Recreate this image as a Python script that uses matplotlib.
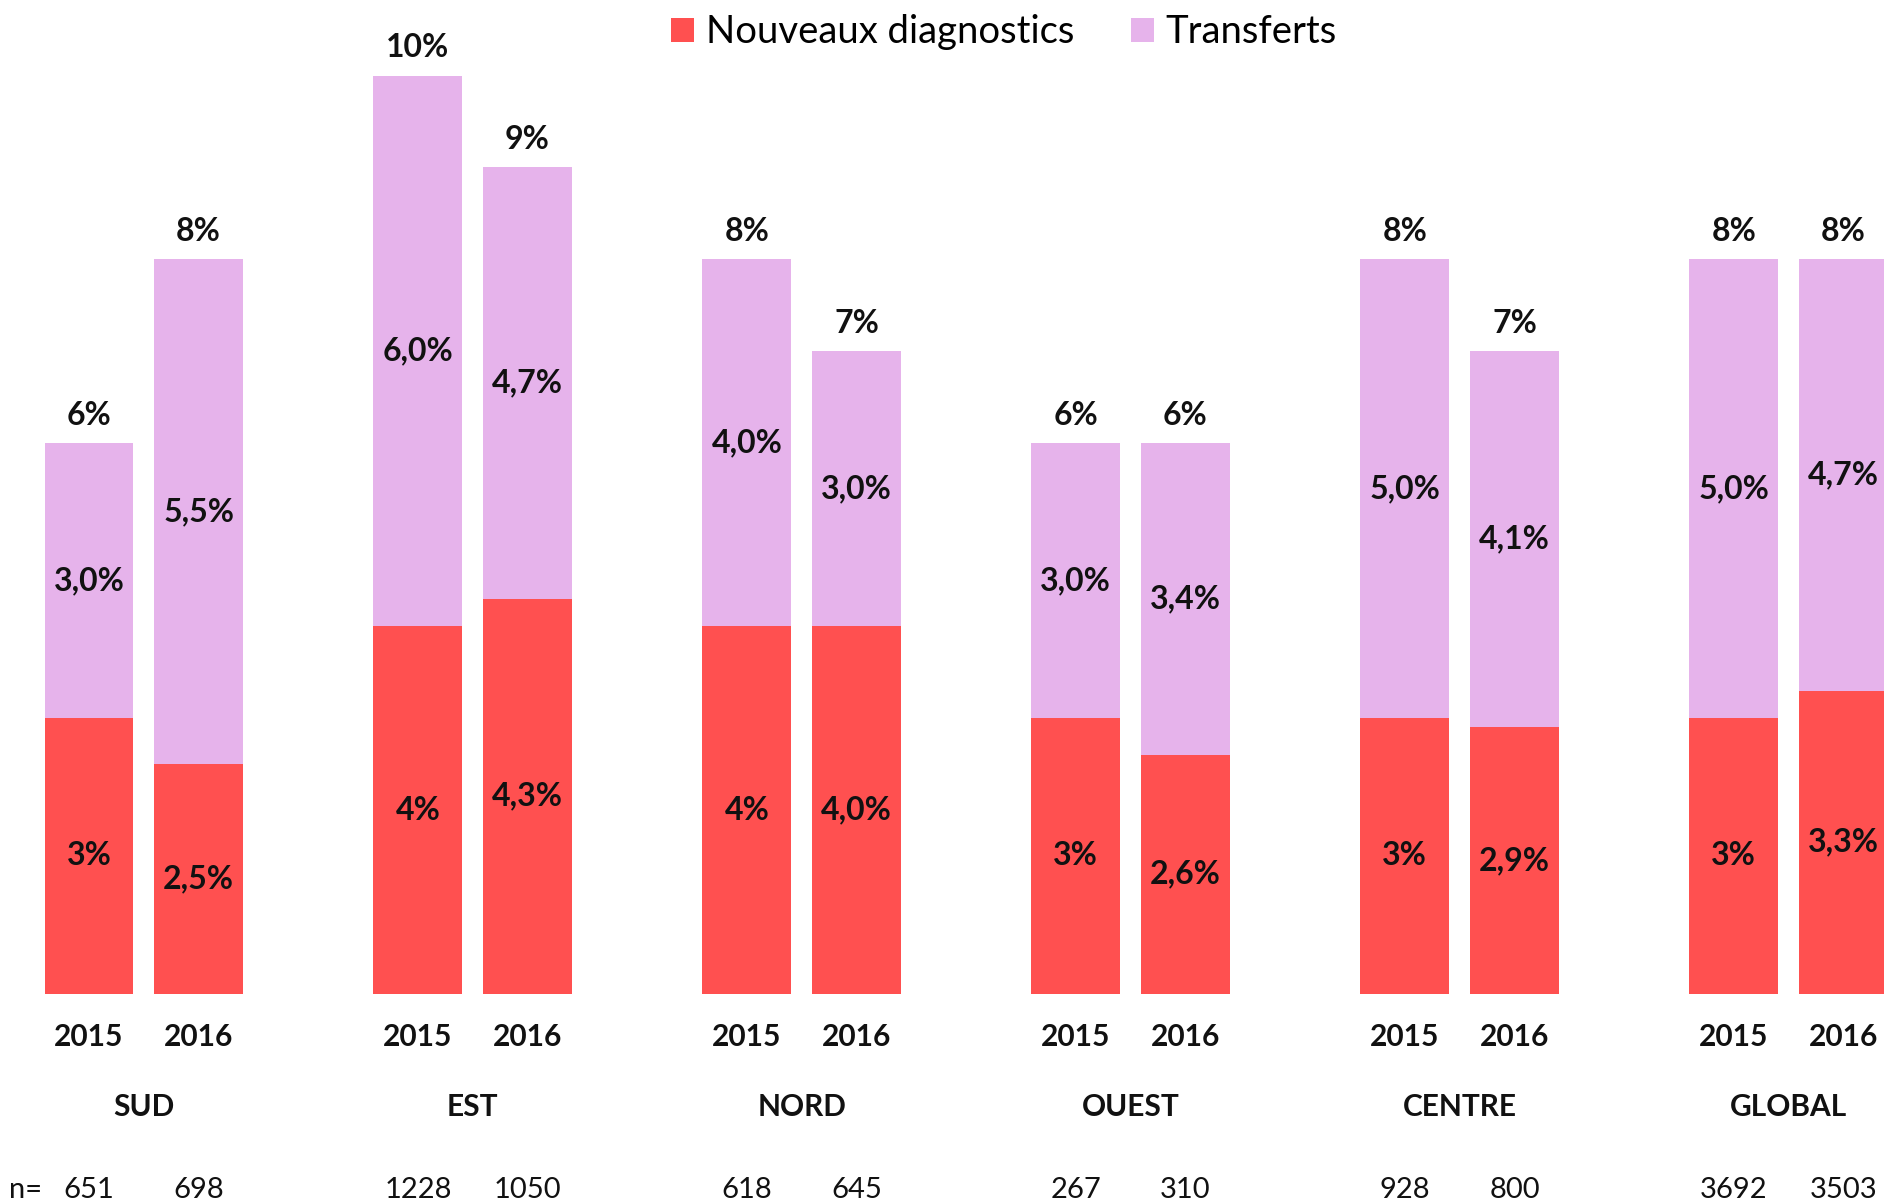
import matplotlib
matplotlib.use("Agg")
import matplotlib.pyplot as plt
from matplotlib.patches import Patch

# Regions and years
regions = ["SUD", "EST", "NORD", "OUEST", "CENTRE", "GLOBAL"]
years = ["2015", "2016"]

# Percent of new diagnoses and transfers, per region and year (2015, 2016)
nouveaux = [3.0, 2.5, 4.0, 4.3, 4.0, 4.0, 3.0, 2.6, 3.0, 2.9, 3.0, 3.3]
transferts = [3.0, 5.5, 6.0, 4.7, 4.0, 3.0, 3.0, 3.4, 5.0, 4.1, 5.0, 4.7]

# Printed labels
nouveaux_labels = ["3%", "2,5%", "4%", "4,3%", "4%", "4,0%",
                   "3%", "2,6%", "3%", "2,9%", "3%", "3,3%"]
transferts_labels = ["3,0%", "5,5%", "6,0%", "4,7%", "4,0%", "3,0%",
                     "3,0%", "3,4%", "5,0%", "4,1%", "5,0%", "4,7%"]
total_labels = ["6%", "8%", "10%", "9%", "8%", "7%",
                "6%", "6%", "8%", "7%", "8%", "8%"]
effectifs = ["651", "698", "1228", "1050", "618", "645",
             "267", "310", "928", "800", "3692", "3503"]

RED = "#FF5050"
PINK = "#E6B3EB"
FONT = "Lato"
INK = "#111111"

fig = plt.figure(figsize=(18.84, 12.0), dpi=100)
ax = fig.add_axes([0, 0, 1, 1])

xs = []
for g in range(len(regions)):
    for j in range(len(years)):
        xs.append(3 * g + j)

ax.bar(xs, nouveaux, width=0.81, color=RED, edgecolor="none")
ax.bar(xs, transferts, width=0.81, bottom=nouveaux, color=PINK, edgecolor="none")

pct = dict(fontfamily=FONT, fontweight="bold", fontsize=23, color=INK,
           ha="center", va="center")
axis_lab = dict(fontfamily=FONT, fontweight="bold", fontsize=21.5, color=INK,
                ha="center", va="center")

for x, n, t, nl, tl, tot in zip(xs, nouveaux, transferts, nouveaux_labels,
                                transferts_labels, total_labels):
    ax.text(x, n / 2, nl, **pct)
    ax.text(x, n + t / 2, tl, **pct)
    ax.annotate(tot, (x, n + t), xytext=(0, 20), textcoords="offset points", **pct)
    ax.text(x, -0.47, years[x % 3], **axis_lab)

for g, name in enumerate(regions):
    ax.text(3 * g + 0.5, -1.23, name, **axis_lab)

for x, e in zip(xs, effectifs):
    ax.text(x, -2.14, e, fontfamily=FONT, fontsize=21, color=INK,
            ha="center", va="center")
ax.text(-0.58, -2.14, "n=", fontfamily=FONT, fontsize=21, color=INK,
        ha="center", va="center")

ax.set_xlim(-0.811, 16.37)
ax.set_ylim(-2.248, 10.824)
ax.axis("off")

handles = [Patch(facecolor=RED, label="Nouveaux diagnostics"),
           Patch(facecolor=PINK, label="Transferts")]
fig.legend(handles=handles, loc="center", bbox_to_anchor=(0.533, 0.973), ncol=2,
           frameon=False, prop={"family": FONT, "size": 27.5},
           handlelength=0.6, handleheight=0.6, handletextpad=0.3,
           columnspacing=1.5, borderaxespad=0)

fig.savefig("out.png", dpi=100, facecolor="white")
